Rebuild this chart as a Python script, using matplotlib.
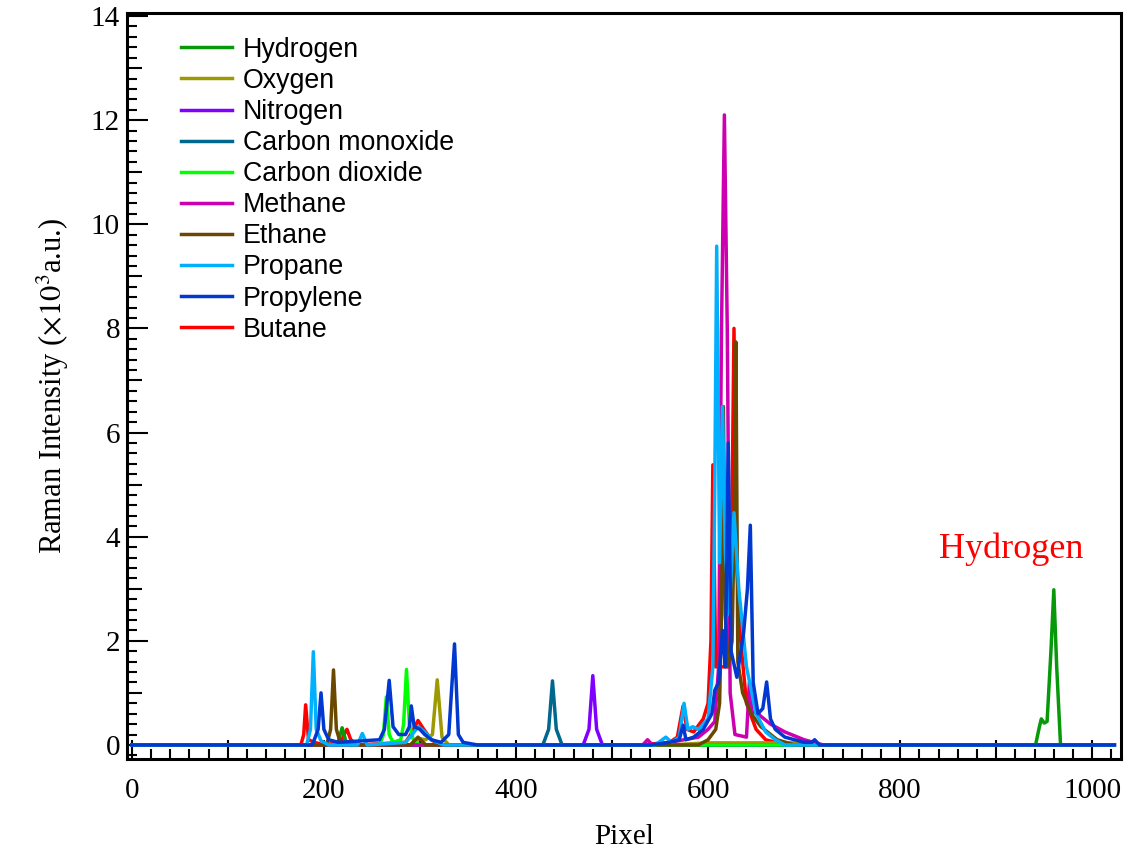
import numpy as np
import matplotlib
matplotlib.use("Agg")
import matplotlib.pyplot as plt
from matplotlib.ticker import MultipleLocator, FuncFormatter

# =========================
# DATOS
# =========================
gases = ["Hydrogen", "Oxygen", "Nitrogen", "Carbon monoxide", "Carbon dioxide",
         "Methane", "Ethane", "Propane", "Propylene", "Butane"]

colores = ["#07990a", "#9c9a00", "#8000ff", "#00688f", "#00ff00",
           "#cc00b0", "#6b4800", "#00b0ff", "#0038d0", "#ff0000"]

hydrogen_x = [0, 214, 219, 224, 941, 945, 947, 950, 953, 957, 960, 963, 967, 1023]
hydrogen_y = [0, 0, 0.33, 0, 0, 0.35, 0.5, 0.42, 0.45, 1.8, 2.98, 1.5, 0, 0]

oxygen_x = [0, 290, 300, 306, 313, 318, 323, 330, 560, 600, 700, 720, 1023]
oxygen_y = [0, 0, 0.12, 0.1, 0.2, 1.25, 0.15, 0, 0, 0.04, 0.04, 0, 0]

nitrogen_x = [0, 470, 476, 480, 484, 490, 1023]
nitrogen_y = [0, 0, 0.3, 1.33, 0.3, 0, 0]

co_x = [0, 428, 434, 438, 442, 448, 1023]
co_y = [0, 0, 0.3, 1.23, 0.3, 0, 0]

co2_x = [0, 258, 262, 265, 268, 272, 280, 283, 286, 289, 293, 300, 1023]
co2_y = [0, 0, 0.2, 0.92, 0.2, 0.05, 0.1, 0.4, 1.45, 0.4, 0.1, 0, 0]

methane_x = [0, 532, 537, 542, 560, 590, 600, 607, 611, 614, 617, 620, 623, 628,
             640, 643, 646, 650, 655, 665, 680, 700, 720, 1023]
methane_y = [0, 0, 0.1, 0, 0.05, 0.15, 0.3, 0.45, 1.5, 8.0, 12.1, 8.0, 1.0, 0.2,
             0.15, 1.2, 0.6, 0.65, 0.55, 0.4, 0.25, 0.1, 0, 0]

ethane_x = [0, 203, 207, 210, 213, 217, 225, 290, 298, 306, 590, 600, 608, 612,
            614, 616, 618, 621, 625, 627, 629, 631, 636, 645, 655, 672, 690, 1023]
ethane_y = [0, 0, 0.3, 1.44, 0.3, 0.05, 0, 0, 0.15, 0, 0, 0.1, 0.3, 0.8,
            2.5, 6.5, 2.5, 1.5, 2.0, 4.0, 7.74, 1.6, 1.0, 0.6, 0.35, 0.1, 0, 0]

propane_x = [0, 182, 186, 189, 192, 197, 205, 235, 240, 245, 285, 292, 298, 305,
             312, 325, 545, 556, 562, 570, 575, 579, 584, 590, 600, 605, 607, 609,
             612, 615, 618, 622, 627, 632, 640, 650, 660, 670, 680, 1023]
propane_y = [0, 0, 0.3, 1.79, 0.3, 0.08, 0, 0, 0.22, 0, 0.05, 0.2, 0.35, 0.25,
             0.1, 0, 0, 0.15, 0.05, 0.15, 0.8, 0.3, 0.35, 0.3, 0.5, 1.5, 5.0, 9.58,
             3.5, 6.5, 3.7, 2.5, 4.46, 3.0, 1.5, 0.6, 0.25, 0.1, 0, 0]

propylene_x = [0, 188, 194, 197, 200, 205, 215, 258, 263, 268, 272, 278, 285, 289,
               291, 294, 300, 305, 312, 322, 330, 336, 340, 345, 360, 540, 560, 570,
               574, 577, 585, 595, 604, 607, 611, 615, 618, 621, 624, 630, 637, 641,
               644, 647, 652, 657, 661, 665, 670, 680, 700, 708, 711, 716, 1023]
propylene_y = [0, 0, 0.3, 1.0, 0.3, 0.1, 0.05, 0.1, 0.3, 1.24, 0.35, 0.2, 0.2, 0.35,
               0.75, 0.35, 0.3, 0.2, 0.1, 0.05, 0.2, 1.94, 0.2, 0.05, 0, 0, 0.05, 0.1,
               0.38, 0.1, 0.15, 0.3, 0.6, 1.05, 1.2, 2.2, 1.5, 5.8, 1.8, 1.3, 2.15, 3.0,
               4.22, 1.2, 0.6, 0.7, 1.21, 0.5, 0.3, 0.15, 0.05, 0.05, 0.1, 0, 0]

butane_x = [0, 176, 179, 181, 184, 190, 200, 218, 221, 224, 228, 235, 285, 292,
            298, 304, 312, 320, 530, 560, 568, 574, 578, 585, 595, 600, 603, 605,
            608, 612, 620, 624, 627, 630, 634, 640, 650, 660, 680, 1023]
butane_y = [0, 0, 0.2, 0.77, 0.1, 0.05, 0, 0.05, 0.2, 0.3, 0.1, 0, 0.05, 0.25,
            0.47, 0.3, 0.1, 0, 0, 0.05, 0.15, 0.75, 0.3, 0.25, 0.5, 0.8, 2.0, 5.38,
            1.5, 1.5, 1.5, 3.0, 8.0, 3.4, 2.0, 0.8, 0.3, 0.1, 0, 0]

series = {
    "Hydrogen": (hydrogen_x, hydrogen_y),
    "Oxygen": (oxygen_x, oxygen_y),
    "Nitrogen": (nitrogen_x, nitrogen_y),
    "Carbon monoxide": (co_x, co_y),
    "Carbon dioxide": (co2_x, co2_y),
    "Methane": (methane_x, methane_y),
    "Ethane": (ethane_x, ethane_y),
    "Propane": (propane_x, propane_y),
    "Propylene": (propylene_x, propylene_y),
    "Butane": (butane_x, butane_y),
}

# orden de dibujo (el azul queda encima)
orden_dibujo = ["Butane", "Hydrogen", "Oxygen", "Nitrogen", "Carbon monoxide",
                "Carbon dioxide", "Methane", "Ethane", "Propane", "Propylene"]

# =========================
# GRAFICO
# =========================
plt.rcParams["mathtext.fontset"] = "stix"
serif = ["Liberation Serif", "DejaVu Serif"]

fig = plt.figure(figsize=(11.35, 8.49), dpi=100)
ax = fig.add_axes([0.1119, 0.106, 0.8758, 0.8788])

lineas = {}
for z, nombre in enumerate(orden_dibujo):
    xs, ys = series[nombre]
    color = colores[gases.index(nombre)]
    ln, = ax.plot(xs, ys, color=color, lw=2.5, label=nombre, zorder=2 + z,
                  solid_joinstyle="round")
    lineas[nombre] = ln

ax.set_xlim(-5, 1030)
ax.set_ylim(-0.27, 14.06)

ax.xaxis.set_major_locator(MultipleLocator(100))
ax.xaxis.set_minor_locator(MultipleLocator(20))
ax.xaxis.set_major_formatter(FuncFormatter(
    lambda v, p: f"{int(round(v))}" if int(round(v)) % 200 == 0 else ""))
ax.yaxis.set_major_locator(MultipleLocator(1))
ax.yaxis.set_minor_locator(MultipleLocator(0.2))
ax.yaxis.set_major_formatter(FuncFormatter(
    lambda v, p: f"{int(round(v))}" if int(round(v)) % 2 == 0 else ""))

ax.tick_params(axis="both", which="both", direction="in", top=False, right=False,
               width=1.5, colors="black")
ax.tick_params(axis="x", which="major", length=13.5, pad=14, labelsize=21)
ax.tick_params(axis="x", which="minor", length=7)
ax.tick_params(axis="y", which="major", length=11, pad=5, labelsize=21)
ax.tick_params(axis="y", which="minor", length=7)
for lab in ax.get_xticklabels() + ax.get_yticklabels():
    lab.set_family(serif)

# marcas pares del eje y mas largas
locs = ax.yaxis.get_majorticklocs()
for loc, t in zip(locs, ax.yaxis.get_major_ticks(len(locs))):
    if int(round(loc)) % 2 == 0:
        t.tick1line.set_markersize(15)

for s in ax.spines.values():
    s.set_linewidth(2.2)

ax.set_xlabel("Pixel", family=serif, fontsize=21, labelpad=14)
ax.set_ylabel(r"Raman Intensity ($\times10^3$a.u.)", family=serif, fontsize=22,
              labelpad=14)

ax.text(840, 3.75, "Hydrogen", color="red", family=serif, fontsize=26,
        ha="left", va="center")

handles = [lineas[g] for g in gases]
ax.legend(handles, gases, loc="upper left", bbox_to_anchor=(0.0543, 0.968),
          frameon=False, borderpad=0, borderaxespad=0, handlelength=1.9,
          handletextpad=0.42, labelspacing=0.19,
          prop={"family": ["Liberation Sans", "DejaVu Sans"], "size": 19.3})

fig.savefig("out.png", dpi=100)
